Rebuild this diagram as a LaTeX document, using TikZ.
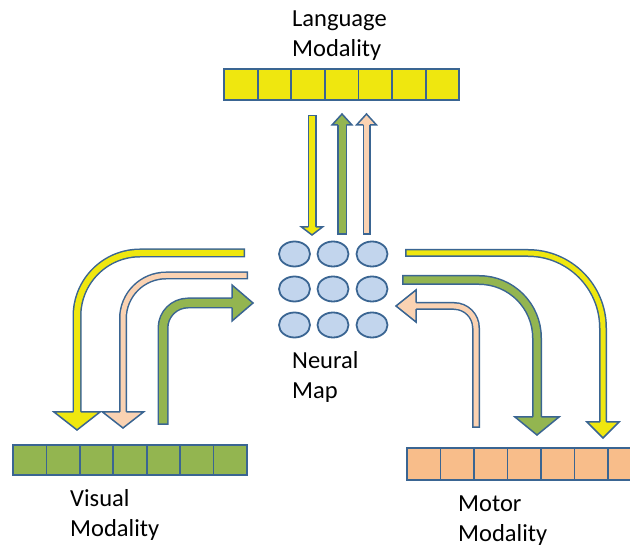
\documentclass[tikz,border=0pt]{standalone}
\usepackage{fontspec}
\setmainfont{Carlito}
\usetikzlibrary{shapes.geometric}

\definecolor{edgeblue}{HTML}{3A6592}
\definecolor{modyellow}{HTML}{EFE70F}
\definecolor{modgreen}{HTML}{93B550}
\definecolor{modpink}{HTML}{FAD2B2}
\definecolor{modorange}{HTML}{F8BD8A}
\definecolor{neuronfill}{HTML}{C2D5ED}

\tikzset{
  cell/.style={draw=edgeblue, line width=1.8pt, minimum width=33.6pt, minimum height=31pt, inner sep=0pt},
  neuron/.style={ellipse, draw=edgeblue, fill=neuronfill, line width=1.8pt, minimum width=31pt, minimum height=25pt, inner sep=0pt},
  shaft/.style={draw=edgeblue, line width=1.5pt, double=#1, line cap=rect},
  head/.style={draw=edgeblue, fill=#1, line width=1.5pt, line join=miter},
  modtext/.style={font=\fontsize{24.5}{30}\selectfont, align=left, anchor=base west, inner sep=0pt}
}

\begin{document}
\begin{tikzpicture}[x=1pt, y=1pt]
            \useasboundingbox (0,0) rectangle (630,546);

            % Modality bars
            \foreach \i in {0,...,6}
              \node[cell, fill=modyellow] (lang\i) at ({240.8+33.6*\i}, 461.5) {};
            \foreach \i in {0,...,6}
              \node[cell, fill=modgreen, minimum width=33.4pt, minimum height=30pt] (vis\i) at ({29.7+33.4*\i}, 86) {};
            \foreach \i in {0,...,6}
              \node[cell, fill=modorange, minimum width=33.5pt, minimum height=32pt] (mot\i) at ({423.8+33.5*\i}, 82) {};

            % Neural map
            \foreach \r/\y in {1/292, 2/257, 3/221}
              \foreach \c/\x in {1/294.5, 2/333, 3/372}
                \node[neuron] (n\r\c) at (\x,\y) {};

            % Labels (anchored at the last line)
            \node[modtext] (langtext) at (292,489) {Language\\Modality};
            \node[modtext] (maptext) at (292,147) {Neural\\Map};
            \node[modtext] (vistext) at (70,9) {Visual\\Modality};
            \node[modtext] (mottext) at (458,4) {Motor\\Modality};

            % Language arrows
            \draw[shaft=modyellow, double distance=6pt] (312,426.5) -- (312,322);
            \filldraw[head=modyellow] (308.25,319) -- (301.5,319) -- (312,311) -- (322.5,319) -- (315.75,319);
            \draw[shaft=modgreen, double distance=7pt] (342,316) -- (342,417.5);
            \filldraw[head=modgreen] (337.75,421) -- (332,421) -- (342,432) -- (352,421) -- (346.25,421);
            \draw[shaft=modpink, double distance=5pt] (366.5,315) -- (366.5,418.5);
            \filldraw[head=modpink] (363.25,421) -- (356.5,421) -- (366.5,432) -- (376.5,421) -- (369.75,421);

            % Visual arrows
            \draw[shaft=modyellow, double distance=6pt, rounded corners=63pt] (240.5,293) -- (77,293) -- (77,137);
            \filldraw[head=modyellow] (73.25,134) -- (54,134) -- (77,116) -- (100,134) -- (80.75,134);
            \draw[shaft=modpink, double distance=5pt, rounded corners=43pt] (244,270.5) -- (123,270.5) -- (123,136.5);
            \filldraw[head=modpink] (119.75,134) -- (102.5,134) -- (123,118) -- (143.5,134) -- (126.25,134);
            \draw[shaft=modgreen, double distance=8pt, rounded corners=25pt] (163,126.5) -- (163,243) -- (228,243);
            \filldraw[head=modgreen] (232,247.75) -- (232,261) -- (253,243) -- (232,225) -- (232,238.25);

            % Motor arrows
            \draw[shaft=modyellow, double distance=5pt, rounded corners=75pt] (409,293) -- (603,293) -- (603,126.5);
            \filldraw[head=modyellow] (599.75,124) -- (587,124) -- (603,108) -- (619,124) -- (606.25,124);
            \draw[shaft=modgreen, double distance=7pt, rounded corners=58pt] (407,266) -- (537,266) -- (537,132.5);
            \filldraw[head=modgreen] (532.75,129) -- (515,129) -- (537,111) -- (559,129) -- (541.25,129);
            \draw[shaft=modpink, double distance=5pt, rounded corners=22pt] (476,122) -- (476,240) -- (418.5,240);
            \filldraw[head=modpink] (416,243.25) -- (416,256) -- (396,240) -- (416,224) -- (416,236.75);
        \end{tikzpicture}
\end{document}
